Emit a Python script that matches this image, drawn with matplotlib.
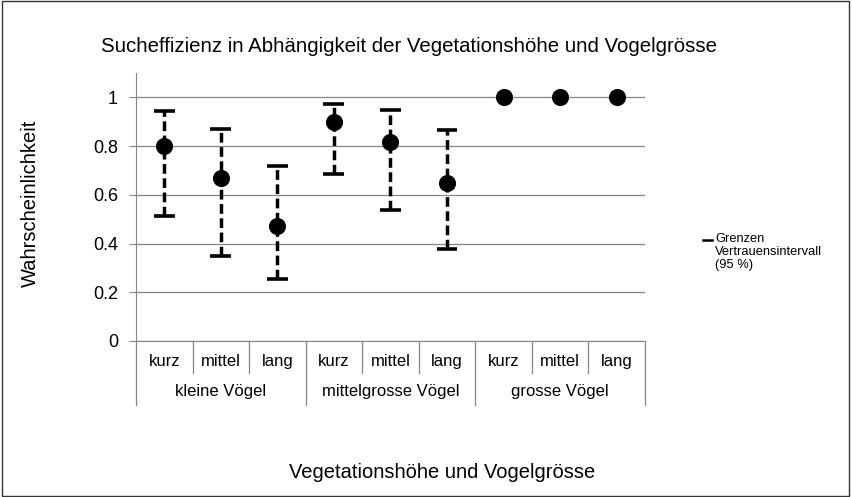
import matplotlib.pyplot as plt
from matplotlib.patches import Rectangle
import matplotlib.transforms as mtransforms

plt.rcParams['font.family'] = ['Liberation Sans', 'DejaVu Sans']

# daten
hoehe = ["kurz", "mittel", "lang"] * 3
gruppen = ["kleine Vögel", "mittelgrosse Vögel", "grosse Vögel"]
wert = [0.80, 0.67, 0.47, 0.90, 0.815, 0.65, 1.0, 1.0, 1.0]
oben = [0.944, 0.872, 0.717, 0.974, 0.948, 0.864, None, None, None]
unten = [0.512, 0.348, 0.255, 0.687, 0.539, 0.379, None, None, None]

fig = plt.figure(figsize=(8.52, 4.97), dpi=100)
ax = fig.add_axes([0.1596, 0.3139, 0.5974, 0.5393])

x = list(range(len(wert)))
grau = "#868686"

# fehlerbalken gestrichelt
for i in x:
    if oben[i] is None:
        continue
    ax.plot([i, i], [unten[i], oben[i]], color="black", lw=2.5, ls=(0, (2.8, 1.3)), zorder=2)
    for y in (unten[i], oben[i]):
        ax.plot([i - 0.185, i + 0.185], [y, y], color="black", lw=2.6, solid_capstyle="butt", zorder=2)

ax.plot(x, wert, "o", color="black", markersize=11.3, zorder=3)

ax.set_xlim(-0.5, 8.5)
ax.set_ylim(0, 1.1)
ax.set_yticks([0, 0.2, 0.4, 0.6, 0.8, 1.0])
ax.set_yticklabels(["0", "0.2", "0.4", "0.6", "0.8", "1"], fontsize=13)
ax.yaxis.grid(True, color=grau, lw=0.9)
ax.set_axisbelow(True)
ax.tick_params(axis="y", length=5, color=grau, pad=8)
for s in ["top", "right"]:
    ax.spines[s].set_visible(False)
ax.spines["left"].set_color(grau)
ax.spines["bottom"].set_color(grau)

# kategorienachse zweistufig
ax.set_xticks(x)
ax.set_xticklabels(hoehe, fontsize=12)
ax.tick_params(axis="x", length=0, pad=15)
for lab in ax.get_xticklabels():
    lab.set_verticalalignment("center")
trans = mtransforms.blended_transform_factory(ax.transData, ax.transAxes)
for k in range(10):
    b = k - 0.5
    tief = -0.239 if k % 3 == 0 else -0.119
    ax.plot([b, b], [0, tief], color=grau, lw=0.9, transform=trans, clip_on=False)
for g, name in enumerate(gruppen):
    ax.text(g * 3 + 1, -0.19, name, transform=trans, ha="center", va="center", fontsize=12)

fig.text(0.48, 1 - 47 / 497, "Sucheffizienz in Abhängigkeit der Vegetationshöhe und Vogelgrösse",
         ha="center", va="center", fontsize=14.7)
fig.text(30 / 852, 1 - 203 / 497, "Wahrscheinlichkeit", rotation=90, ha="center", va="center", fontsize=14.5)
fig.text(442 / 852, 1 - 472 / 497, "Vegetationshöhe und Vogelgrösse", ha="center", va="center", fontsize=14.5)

# legende
fig.add_artist(plt.Line2D([703 / 852, 712 / 852], [1 - 240 / 497] * 2, color="black", lw=1.8))
fig.text(715 / 852, 1 - 233 / 497, "Grenzen\nVertrauensintervall\n(95 %)",
         ha="left", va="top", fontsize=9.3, linespacing=1.12)

fig.patches.append(Rectangle((0.002, 0.003), 0.995, 0.994, transform=fig.transFigure,
                             fill=False, edgecolor="#333333", lw=1))

fig.savefig("out.png", dpi=100)
